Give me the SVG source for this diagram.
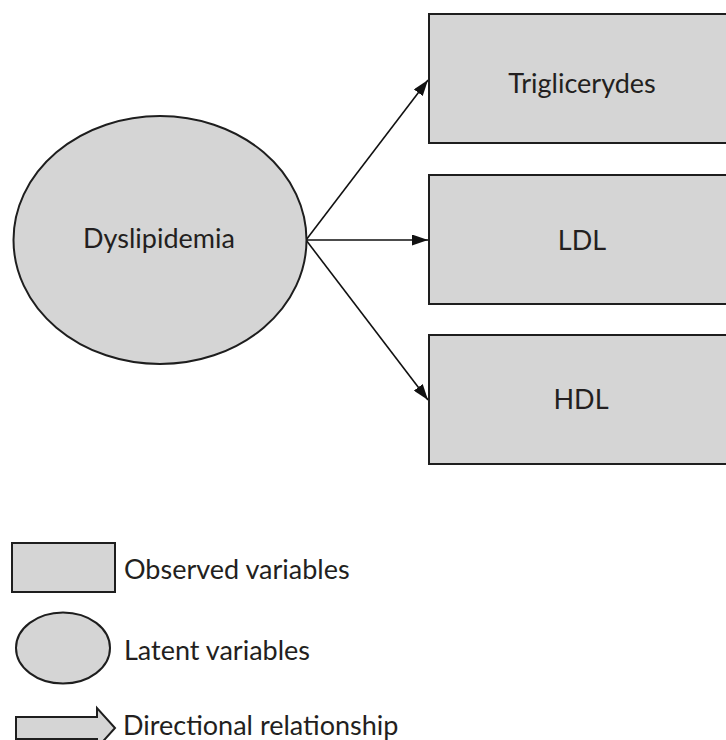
<svg xmlns="http://www.w3.org/2000/svg" width="726" height="740" viewBox="0 0 726 740">
<style>
.n{fill:#d5d5d5;stroke:#1e1e1e;stroke-width:2}
.t{font-family:Lato,"Open Sans",sans-serif;font-size:27px;fill:#231f20}
.l{font-family:Lato,"Open Sans",sans-serif;font-size:27px;fill:#231f20}
.c{stroke:#111;stroke-width:1.6;fill:none}
</style>
<defs>
<marker id="ah" viewBox="0 0 16 11" refX="16" refY="5.5" markerWidth="16" markerHeight="11" markerUnits="userSpaceOnUse" orient="auto">
<path d="M0,0 L16,5.5 L0,11 Z" fill="#111"/>
</marker>
</defs>
<rect width="726" height="740" fill="#fff"/>
<g id="connectors">
<line class="c" x1="306" y1="240" x2="428" y2="80" marker-end="url(#ah)"/>
<line class="c" x1="306" y1="240" x2="428" y2="240" marker-end="url(#ah)"/>
<line class="c" x1="306" y1="240" x2="428" y2="400" marker-end="url(#ah)"/>
</g>
<g id="dyslipidemia">
<ellipse class="n" cx="160" cy="240" rx="146.5" ry="124"/>
<text class="t" x="159" y="248" text-anchor="middle">Dyslipidemia</text>
</g>
<g id="triglicerydes">
<rect class="n" x="429" y="14" width="310" height="129"/>
<text class="t" x="582" y="93" text-anchor="middle">Triglicerydes</text>
</g>
<g id="ldl">
<rect class="n" x="429" y="175" width="310" height="129"/>
<text class="t" x="582" y="250" text-anchor="middle">LDL</text>
</g>
<g id="hdl">
<rect class="n" x="429" y="335" width="310" height="129"/>
<text class="t" x="581" y="409" text-anchor="middle">HDL</text>
</g>
<g id="legend">
<rect class="n" x="12" y="543" width="103" height="49"/>
<text class="l" x="124" y="579">Observed variables</text>
<ellipse class="n" cx="63" cy="648" rx="47" ry="35.5"/>
<text class="l" x="124" y="660">Latent variables</text>
<path class="n" d="M16,717 L97,717 L97,708 L115,728 L97,748 L97,739 L16,739 Z"/>
<text class="l" x="123" y="735">Directional relationship</text>
</g>
</svg>
